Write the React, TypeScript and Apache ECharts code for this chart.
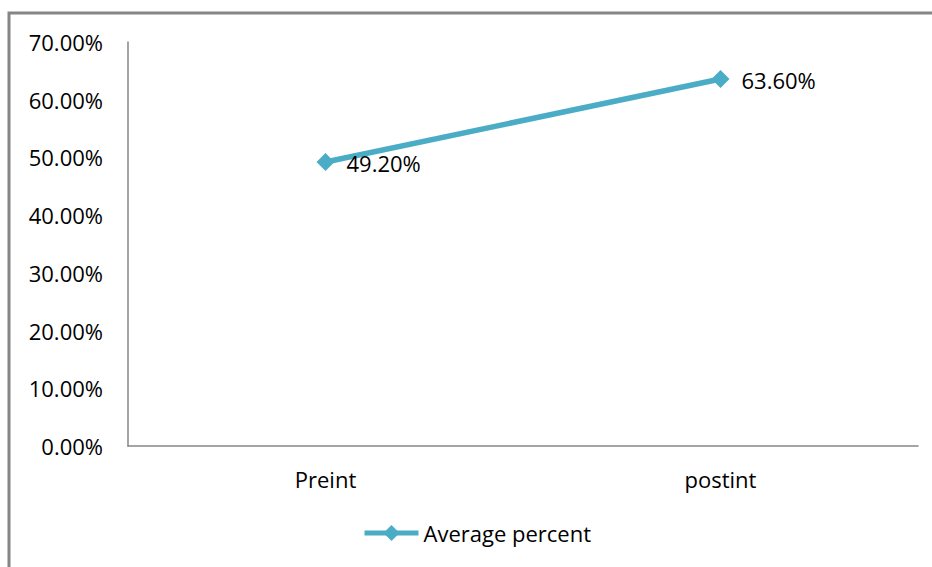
import React, { useEffect, useRef } from "react";
import * as echarts from "echarts";

const categories = ["Preint", "postint"];
const averagePercent = [49.2, 63.6];
const seriesName = "Average percent";
const yMin = 0;
const yMax = 70;
const yStep = 10;

const FONT = "'Open Sans', sans-serif";
const FONT_SIZE = 22;
const LINE_COLOR = "#4BACC6";
const AXIS_COLOR = "#868686";

export default function App() {
  const ref = useRef<HTMLDivElement>(null);

  useEffect(() => {
    if (!ref.current) return;
    const chart = echarts.init(ref.current, undefined, { renderer: "svg" });
    chart.setOption({
      animation: false,
      backgroundColor: "#ffffff",
      textStyle: { fontFamily: FONT },
      graphic: [
        {
          type: "rect",
          shape: { x: 9, y: 13, width: 1000, height: 1000 },
          style: { fill: "none", stroke: AXIS_COLOR, lineWidth: 3 },
          silent: true,
        },
      ],
      grid: { left: 128, right: 14, top: 42, bottom: 121, containLabel: false },
      legend: {
        data: [seriesName],
        left: 362,
        top: 522,
        padding: 0,
        itemWidth: 54,
        itemHeight: 20,
        itemGap: 10,
        lineStyle: { width: 5 },
        textStyle: { fontFamily: FONT, fontSize: FONT_SIZE, color: "#000", padding: [0, 0, 0, 0] },
      },
      xAxis: {
        type: "category",
        data: categories,
        boundaryGap: true,
        axisLine: { lineStyle: { color: AXIS_COLOR, width: 1.5 } },
        axisTick: { show: false },
        axisLabel: { color: "#000", fontFamily: FONT, fontSize: FONT_SIZE, margin: 22 },
        splitLine: { show: false },
      },
      yAxis: {
        type: "value",
        min: yMin,
        max: yMax,
        interval: yStep,
        axisLine: { show: true, lineStyle: { color: AXIS_COLOR, width: 1.5 } },
        axisTick: { show: false },
        splitLine: { show: false },
        axisLabel: {
          color: "#000",
          fontFamily: FONT,
          fontSize: FONT_SIZE,
          margin: 25,
          formatter: (v: number) => v.toFixed(2) + "%",
        },
      },
      series: [
        {
          name: seriesName,
          type: "line",
          data: averagePercent,
          symbol: "diamond",
          symbolSize: 18,
          lineStyle: { color: LINE_COLOR, width: 5.5 },
          itemStyle: { color: LINE_COLOR },
          label: {
            show: true,
            position: "right",
            distance: 12,
            color: "#000",
            fontFamily: FONT,
            fontSize: FONT_SIZE,
            offset: [0, 1],
            formatter: (p: any) => Number(p.value).toFixed(2) + "%",
          },
        },
      ],
    });
    return () => chart.dispose();
  }, []);

  return (
    <div
      ref={ref}
      style={{ position: "fixed", left: 0, top: 0, width: 932, height: 567 }}
    />
  );
}
